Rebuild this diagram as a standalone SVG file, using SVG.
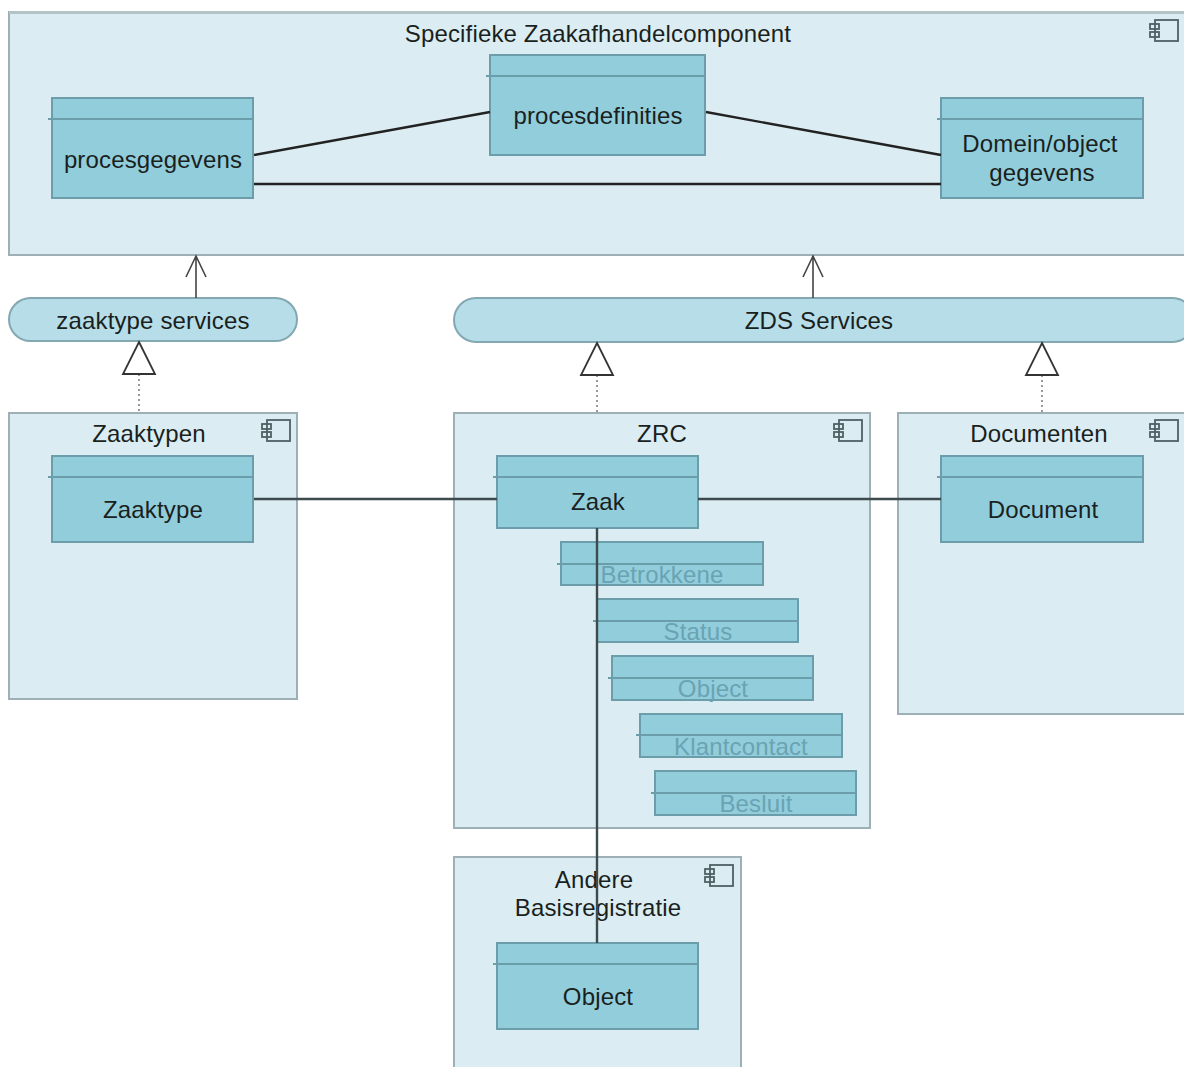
<svg xmlns="http://www.w3.org/2000/svg" width="1184" height="1067" viewBox="0 0 1184 1067">
<style>
text{font-family:"Liberation Sans",Arial,sans-serif;font-size:24px;letter-spacing:.15px;text-anchor:middle;fill:#1a1f20}
.c{fill:#dbedf3;stroke:#9db0b5;stroke-width:2}
.b{fill:#92cddc;stroke:#6b9dab;stroke-width:2}
.h{stroke:#6b9dab;stroke-width:2;fill:none}
.p{fill:#b6dde8;stroke:#84a8b2;stroke-width:2}
.l{stroke:#222;stroke-width:2.4;fill:none}
.g{stroke:#3d4a4e;stroke-width:2.4;fill:none}
.t{stroke:#444;stroke-width:1.6;fill:none}
.d{stroke:#999;stroke-width:2;stroke-dasharray:2 3;fill:none}
.tri{fill:#fff;stroke:#333;stroke-width:1.8}
.f{fill:#6aa3b3}
.i{fill:none;stroke:#4f5f64;stroke-width:1.8}
</style>
<defs>
<g id="ic"><rect class="i" x="5" y="0" width="23" height="21"/><rect class="i" x="0" y="4" width="9" height="5"/><rect class="i" x="0" y="12" width="9" height="5"/></g>
</defs>
<rect width="1184" height="1067" fill="#fff"/>
<g id="specifieke"><rect class="c" x="9" y="12" width="1180" height="243"/><path d="M9 12.500H1184" stroke="#b4c4c6" stroke-width="3"/><text x="598" y="42">Specifieke Zaakafhandelcomponent</text><use href="#ic" x="1150" y="20"/></g>
<g id="zaaktypen"><rect class="c" x="9" y="413" width="288" height="286"/><text x="149" y="442">Zaaktypen</text><use href="#ic" x="262" y="420"/></g>
<g id="zrc"><rect class="c" x="454" y="413" width="416" height="415"/><text x="662" y="442">ZRC</text><use href="#ic" x="834" y="420"/></g>
<g id="documenten"><rect class="c" x="898" y="413" width="292" height="301"/><text x="1039" y="442">Documenten</text><use href="#ic" x="1150" y="420"/></g>
<g id="andere"><rect class="c" x="454" y="857" width="287" height="220"/><text x="594" y="888">Andere</text><text x="598" y="916">Basisregistratie</text><use href="#ic" x="705" y="865"/></g>
<g id="zaaktype-services"><rect class="p" x="9" y="298" width="288" height="43" rx="21.500"/><text x="153" y="329">zaaktype services</text></g>
<g id="zds-services"><rect class="p" x="454" y="298" width="740" height="44" rx="22"/><text x="819" y="329">ZDS Services</text></g>
<g id="procesgegevens"><rect class="b" x="52" y="98" width="201" height="100"/><path class="h" d="M48 119H253"/><text x="153" y="168">procesgegevens</text></g>
<g id="procesdefinities"><rect class="b" x="490" y="55" width="215" height="100"/><path class="h" d="M486 76H705"/><text x="598" y="124">procesdefinities</text></g>
<g id="domein"><rect class="b" x="941" y="98" width="202" height="100"/><path class="h" d="M937 119H1143"/><text x="1040" y="152">Domein/object</text><text x="1042" y="181">gegevens</text></g>
<g id="zaaktype"><rect class="b" x="52" y="456" width="201" height="86"/><path class="h" d="M48 477H253"/><text x="153" y="518">Zaaktype</text></g>
<g id="zaak"><rect class="b" x="497" y="456" width="201" height="72"/><path class="h" d="M493 477H698"/><text x="598" y="510">Zaak</text></g>
<g id="document"><rect class="b" x="941" y="456" width="202" height="86"/><path class="h" d="M937 477H1143"/><text x="1043" y="518">Document</text></g>
<g id="betrokkene"><rect class="b" x="561" y="542" width="202" height="43"/><path class="h" d="M557 564H763"/><text class="f" x="662" y="583">Betrokkene</text></g>
<g id="status"><rect class="b" x="597" y="599" width="201" height="43"/><path class="h" d="M593 621H798"/><text class="f" x="698" y="640">Status</text></g>
<g id="object-zrc"><rect class="b" x="612" y="656" width="201" height="44"/><path class="h" d="M608 678H813"/><text class="f" x="713" y="697">Object</text></g>
<g id="klantcontact"><rect class="b" x="640" y="714" width="202" height="43"/><path class="h" d="M636 735H842"/><text class="f" x="741" y="755">Klantcontact</text></g>
<g id="besluit"><rect class="b" x="655" y="771" width="201" height="44"/><path class="h" d="M651 793H856"/><text class="f" x="756" y="812">Besluit</text></g>
<g id="object"><rect class="b" x="497" y="943" width="201" height="86"/><path class="h" d="M493 964H698"/><text x="598" y="1005">Object</text></g>
<g id="connectors">
<path class="l" d="M254 155L490 112M706 112L941 155M254 184H941"/>
<path class="g" d="M254 499H497M698 499H941"/>
<path class="g" d="M597 528V943"/>
<path class="t" d="M186 277L196 256L206 277M196 256V298"/>
<path class="t" d="M803 277L813 256L823 277M813 256V298"/>
<path class="d" d="M139 374V413M597 375V413M1042 375V413"/>
<path class="tri" d="M139 342L155 374H123Z"/>
<path class="tri" d="M597 343L613 375H581Z"/>
<path class="tri" d="M1042 343L1058 375H1026Z"/>
</g>
</svg>
